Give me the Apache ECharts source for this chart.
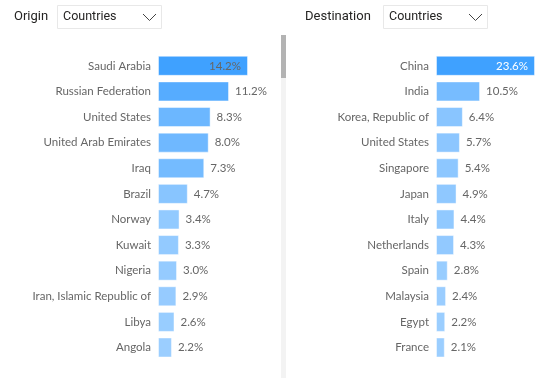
<!DOCTYPE html>
<html>
<head>
<meta charset="utf-8">
<script src="https://cdn.jsdelivr.net/npm/echarts@6/dist/echarts.min.js"></script>
<style>html,body{margin:0;padding:0;background:#fff}#c{width:557px;height:378px}</style>
</head>
<body>
<div id="c"></div>
<script>
const originCategories = ["Saudi Arabia","Russian Federation","United States","United Arab Emirates","Iraq","Brazil","Norway","Kuwait","Nigeria","Iran, Islamic Republic of","Libya","Angola"];
const originValues = [14.2,11.2,8.3,8.0,7.3,4.7,3.4,3.3,3.0,2.9,2.6,2.2];
const destCategories = ["China","India","Korea, Republic of","United States","Singapore","Japan","Italy","Netherlands","Spain","Malaysia","Egypt","France"];
const destValues = [23.6,10.5,6.4,5.7,5.4,4.9,4.4,4.3,2.8,2.4,2.2,2.1];

const FONT = "Lato, 'Noto Sans', sans-serif";
const HFONT = "Roboto, 'Noto Sans', sans-serif";
const LIGHT = '#9BCEFF', DARK = '#3FA1FF';

function buildData(vals, insideColor) {
  const mx = Math.max(...vals);
  return vals.map(v => v === mx ? {value: v, label: {position: 'insideRight', color: insideColor, distance: 7}} : v);
}

const chart = echarts.init(document.getElementById('c'), null, {renderer: 'canvas'});

const yAxisBase = {
  type: 'category', inverse: true,
  axisLine: {show: false}, axisTick: {show: false},
  axisLabel: {color: '#666666', fontSize: 11.5, fontFamily: FONT, margin: 7}
};
const xAxisBase = {type: 'value', min: 0, max: 'dataMax', show: false};
const labelBase = {show: true, position: 'right', distance: 6, color: '#666666', fontSize: 11.5, fontFamily: FONT,
  formatter: p => p.value.toFixed(1) + '%'};

function dropdown(x, label, labelX) {
  return [
    {type: 'text', left: labelX, top: 10.5, style: {text: label, fill: '#252423', font: '13px ' + HFONT}},
    {type: 'rect', shape: {x: x + 0.5, y: 5.5, width: 104, height: 23}, style: {fill: '#fff', stroke: '#e8e8e8', lineWidth: 1}},
    {type: 'text', left: x + 6, top: 10.5, style: {text: 'Countries', fill: '#252423', font: '12.5px ' + HFONT}},
    {type: 'polyline', shape: {points: [[x + 86, 14], [x + 92.5, 20.5], [x + 99, 14]]}, style: {stroke: '#444', lineWidth: 1, fill: null}}
  ];
}

chart.setOption({
  animation: false,
  grid: [
    {left: 158, top: 53, width: 90, height: 307.3},
    {left: 436, top: 53, width: 99, height: 307.3}
  ],
  xAxis: [Object.assign({gridIndex: 0}, xAxisBase), Object.assign({gridIndex: 1}, xAxisBase)],
  yAxis: [
    Object.assign({gridIndex: 0, data: originCategories}, yAxisBase),
    Object.assign({gridIndex: 1, data: destCategories}, yAxisBase)
  ],
  visualMap: [
    {show: false, seriesIndex: 0, dimension: 0, min: Math.min(...originValues), max: Math.max(...originValues), inRange: {color: [LIGHT, DARK]}},
    {show: false, seriesIndex: 1, dimension: 0, min: Math.min(...destValues), max: Math.max(...destValues), inRange: {color: [LIGHT, DARK]}}
  ],
  series: [
    {type: 'bar', xAxisIndex: 0, yAxisIndex: 0, barWidth: 20, data: buildData(originValues, '#666666'),
      itemStyle: {borderColor: 'rgba(255,255,255,0.45)', borderWidth: 1}, label: labelBase},
    {type: 'bar', xAxisIndex: 1, yAxisIndex: 1, barWidth: 20, data: buildData(destValues, '#ffffff'),
      itemStyle: {borderColor: 'rgba(255,255,255,0.45)', borderWidth: 1}, label: labelBase}
  ],
  graphic: [
    ...dropdown(57, 'Origin', 14),
    ...dropdown(383, 'Destination', 305),
    {type: 'rect', shape: {x: 281, y: 35, width: 5, height: 343}, style: {fill: '#f3f3f3'}},
    {type: 'rect', shape: {x: 281, y: 35, width: 5, height: 43}, style: {fill: '#b3b3b3'}}
  ]
});
</script>
</body>
</html>
